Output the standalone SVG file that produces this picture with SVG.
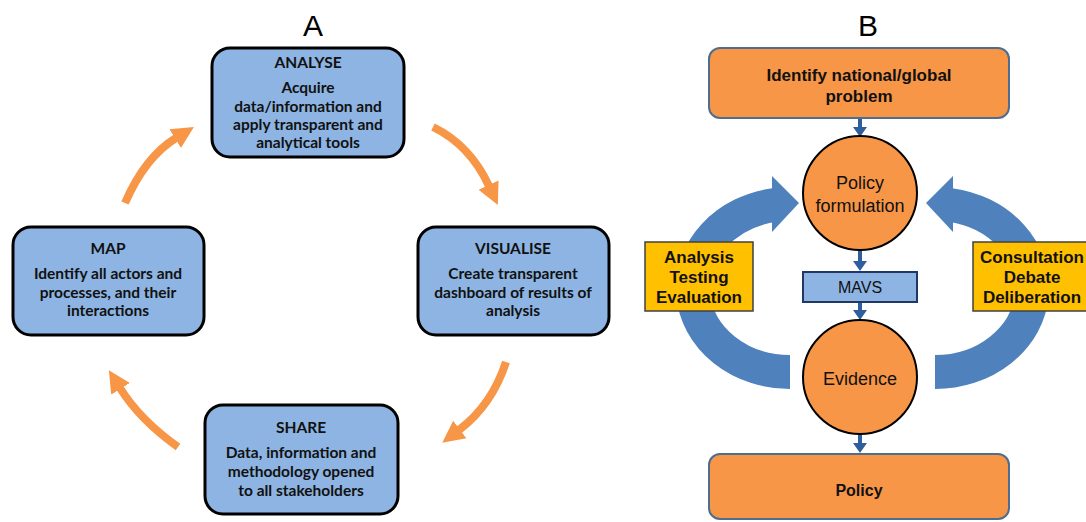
<svg xmlns="http://www.w3.org/2000/svg" width="1086" height="522" viewBox="0 0 1086 522">
<style>
.abox{fill:#8DB4E2;stroke:#000;stroke-width:3}
.at{font-family:Lato,"Liberation Sans",sans-serif;font-weight:bold;font-size:15.5px;fill:#111;text-anchor:middle}
.oarc{fill:none;stroke:#F79646;stroke-width:8}
.obox{fill:#F79646;stroke:#4F6D8F;stroke-width:2}
.circ{fill:#F79646;stroke:#000;stroke-width:2}
.bt{font-family:"Liberation Sans",Arial,sans-serif;fill:#111;text-anchor:middle}
.ybox{fill:#FFC000;stroke:#404040;stroke-width:1.5}
.barc{fill:none;stroke:#4F81BD;stroke-width:34}
.bhead{fill:#4F81BD}
.sa{stroke:#2F5E9E;stroke-width:4;fill:none}
.sh{fill:#2F5E9E}
.title{font-family:"Liberation Sans",Arial,sans-serif;font-size:30px;fill:#000;text-anchor:middle}
</style>
<defs>
<marker id="oh" viewBox="0 -12 24 24" markerWidth="24" markerHeight="24" refX="1" refY="0" orient="auto" markerUnits="userSpaceOnUse">
<path d="M0,-11 L22,0 L0,11 z" fill="#F79646"/>
</marker>
</defs>
<text class="title" x="313" y="36">A</text>
<text class="title" x="868" y="36">B</text>

<g id="connectors">
<path class="oarc" d="M125,203 Q145,157 176,138" marker-end="url(#oh)"/>
<path class="oarc" d="M433,127 Q470,145 489,186" marker-end="url(#oh)"/>
<path class="oarc" d="M506,362 Q492,405 459,430" marker-end="url(#oh)"/>
<path class="oarc" d="M178,447 Q140,420 120,388" marker-end="url(#oh)"/>

<path class="barc" d="M790,372 A97,84 0 0 1 775,205"/>
<polygon class="bhead" points="772,176 799,203 772,232"/>
<path class="barc" d="M935,372 A97,84 0 0 0 950,205"/>
<polygon class="bhead" points="953,176 926,203 953,232"/>

<line class="sa" x1="860" y1="118" x2="860" y2="129"/>
<polygon class="sh" points="853,127 867,127 860,137"/>
<line class="sa" x1="860" y1="250" x2="860" y2="263"/>
<polygon class="sh" points="853,261 867,261 860,271"/>
<line class="sa" x1="860" y1="302" x2="860" y2="312"/>
<polygon class="sh" points="853,310 867,310 860,320"/>
<line class="sa" x1="860" y1="433" x2="860" y2="445"/>
<polygon class="sh" points="853,443 867,443 860,453"/>
</g>

<g id="analyse">
<rect class="abox" x="212" y="48" width="192" height="109" rx="18"/>
<text class="at" x="308" y="68">ANALYSE</text>
<text class="at" x="308" y="93">Acquire</text>
<text class="at" x="308" y="112">data/information and</text>
<text class="at" x="308" y="130">apply transparent and</text>
<text class="at" x="308" y="148">analytical tools</text>
</g>
<g id="map">
<rect class="abox" x="13" y="227" width="191" height="108" rx="18"/>
<text class="at" x="108" y="254">MAP</text>
<text class="at" x="108" y="279">Identify all actors and</text>
<text class="at" x="108" y="298">processes, and their</text>
<text class="at" x="108" y="316">interactions</text>
</g>
<g id="visualise">
<rect class="abox" x="418" y="227" width="191" height="108" rx="18"/>
<text class="at" x="513" y="254">VISUALISE</text>
<text class="at" x="513" y="279">Create transparent</text>
<text class="at" x="513" y="298">dashboard of results of</text>
<text class="at" x="513" y="316">analysis</text>
</g>
<g id="share">
<rect class="abox" x="205" y="405" width="193" height="109" rx="18"/>
<text class="at" x="301" y="433">SHARE</text>
<text class="at" x="301" y="458">Data, information and</text>
<text class="at" x="301" y="477">methodology opened</text>
<text class="at" x="301" y="496">to all stakeholders</text>
</g>

<g id="problem">
<rect class="obox" x="709" y="48" width="300" height="70" rx="11"/>
<text class="bt" x="859" y="81" font-size="17" font-weight="bold">Identify national/global</text>
<text class="bt" x="859" y="102" font-size="17" font-weight="bold">problem</text>
</g>
<g id="formulation">
<circle class="circ" cx="860" cy="193" r="57"/>
<text class="bt" x="860" y="189" font-size="18">Policy</text>
<text class="bt" x="860" y="212" font-size="18">formulation</text>
</g>
<g id="mavs">
<rect x="803" y="272" width="114" height="30" fill="#8DB4E2" stroke="#1F3864" stroke-width="2"/>
<text class="bt" x="860" y="293" font-size="16">MAVS</text>
</g>
<g id="evidence">
<circle class="circ" cx="860" cy="377" r="57"/>
<text class="bt" x="860" y="385" font-size="18">Evidence</text>
</g>
<g id="policy">
<rect class="obox" x="709" y="454" width="300" height="65" rx="11"/>
<text class="bt" x="859" y="496" font-size="16" font-weight="bold">Policy</text>
</g>
<g id="analysis">
<rect class="ybox" x="645" y="242" width="108" height="69"/>
<text class="bt" x="699" y="263" font-size="17" font-weight="bold">Analysis</text>
<text class="bt" x="699" y="283" font-size="17" font-weight="bold">Testing</text>
<text class="bt" x="699" y="303" font-size="17" font-weight="bold">Evaluation</text>
</g>
<g id="consultation">
<rect class="ybox" x="973" y="242" width="125" height="69"/>
<text class="bt" x="1032" y="263" font-size="17" font-weight="bold">Consultation</text>
<text class="bt" x="1032" y="283" font-size="17" font-weight="bold">Debate</text>
<text class="bt" x="1032" y="303" font-size="17" font-weight="bold">Deliberation</text>
</g>
</svg>
